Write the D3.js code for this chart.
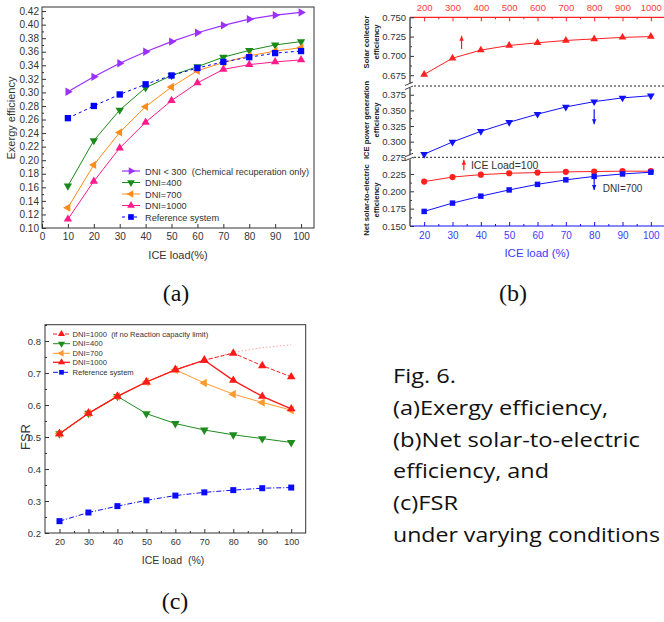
<!DOCTYPE html>
<html><head><meta charset="utf-8">
<script src="https://cdn.jsdelivr.net/npm/d3@7"></script>
<style>
body{margin:0;background:#fff}
svg{display:block}
text{font-family:"Liberation Sans",Arial,sans-serif;white-space:pre}
</style>
</head><body>
<svg id="fig" width="664" height="622"></svg>
<script>
// ---------- DATA ----------
// (a) Exergy efficiency vs ICE load
const loadA = [10,20,30,40,50,60,70,80,90,100];
const exDNI300  = [0.301,0.323,0.343,0.360,0.375,0.388,0.399,0.408,0.414,0.418];
const exDNI400  = [0.162,0.229,0.274,0.307,0.325,0.338,0.352,0.362,0.370,0.375];
const exDNI700  = [0.130,0.193,0.241,0.279,0.308,0.332,0.344,0.354,0.361,0.366];
const exDNI1000 = [0.113,0.169,0.218,0.256,0.288,0.314,0.334,0.341,0.345,0.348];
const exRef     = [0.262,0.280,0.297,0.312,0.325,0.336,0.345,0.352,0.358,0.361];
const legendA = ["DNI < 300  (Chemical recuperation only)","DNI=400","DNI=700","DNI=1000","Reference system"];

// (b) efficiencies
const loadB = [20,30,40,50,60,70,80,90,100];
const dniB  = [200,300,400,500,600,700,800,900,1000];
const solarCollector = [0.676,0.697,0.7075,0.7135,0.717,0.720,0.722,0.724,0.725];
const icePower       = [0.280,0.2995,0.3165,0.331,0.344,0.3555,0.364,0.370,0.3735];
const netICE100      = [0.214,0.2205,0.224,0.226,0.227,0.228,0.2285,0.229,0.229];
const netDNI700      = [0.171,0.183,0.193,0.202,0.210,0.2165,0.2215,0.225,0.2275];
const ticksB1 = [0.675,0.700,0.725,0.750];
const ticksB2 = [0.275,0.300,0.325,0.350,0.375];
const ticksB3 = [0.150,0.175,0.200,0.225];

// (c) FSR vs ICE load
const loadC = [20,30,40,50,60,70,80,90,100];
const fsrNoLimit = [0.510,0.574,0.627,0.672,0.710,0.740,0.762,0.723,0.688];
const fsr400     = [0.510,0.574,0.627,0.573,0.542,0.522,0.507,0.495,0.483];
const fsr700     = [0.510,0.574,0.627,0.672,0.710,0.669,0.634,0.608,0.584];
const fsr1000    = [0.510,0.574,0.627,0.672,0.710,0.740,0.677,0.627,0.588];
const fsrRef     = [0.237,0.264,0.284,0.302,0.317,0.327,0.334,0.340,0.342];
const loadCExt   = [70,80,90,100];
const fsrExt     = [0.740,0.765,0.779,0.788];
const legendC = ["DNI=1000  (if no Reaction capacity limit)","DNI=400","DNI=700","DNI=1000","Reference system"];

const caption = ["Fig. 6.","(a)Exergy efficiency,","(b)Net solar-to-electric","efficiency, and","(c)FSR","under varying conditions"];

// ---------- HELPERS ----------
const svg = d3.select("#fig");
const TXT = "#333";

function drawSeries(g, xs, ys, xs_, ys_, o) {
  const line = d3.line().x((d,i)=>xs_(xs[i])).y(d=>ys_(d));
  g.append("path").datum(ys).attr("d", line).attr("fill","none")
    .attr("stroke", o.color).attr("stroke-width", o.w || 1)
    .attr("stroke-dasharray", o.dash || null).attr("opacity", o.op || 1);
  if (o.sym) {
    g.selectAll(null).data(ys).enter().append("path")
      .attr("transform",(d,i)=>`translate(${xs_(xs[i])},${ys_(d)}) rotate(${o.rot||0})`)
      .attr("d", d3.symbol().type(o.sym).size(o.size || 30))
      .attr("fill", o.color);
  }
}
function styleAxis(sel, color, fs) {
  sel.selectAll("line").attr("stroke", color);
  sel.selectAll("path.domain").remove();
  sel.selectAll("text").attr("fill", color).attr("font-size", fs);
}

// ---------- PANEL (a) ----------
(function(){
  const g = svg.append("g");
  const x = d3.scaleLinear().domain([0,105]).range([42,314]);
  const y = d3.scaleLinear().domain([0.10,0.426]).range([228,7]);
  g.append("g").attr("transform","translate(0,228)")
    .call(d3.axisBottom(x).tickValues(d3.range(0,101,10)).tickSize(-4).tickPadding(5).tickFormat(d3.format("d")))
    .call(s=>styleAxis(s,TXT,"10px"));
  g.append("g").attr("transform","translate(42,0)")
    .call(d3.axisLeft(y).tickValues(d3.range(0.10,0.4201,0.02)).tickSize(-4).tickPadding(3).tickFormat(d3.format(".2f")))
    .call(s=>styleAxis(s,TXT,"10px"));
  g.append("g").attr("transform","translate(42,0)")
    .call(d3.axisLeft(y).tickValues(d3.range(0.11,0.42,0.02)).tickSize(-2).tickFormat(""))
    .call(s=>styleAxis(s,TXT,"10px"));
  g.append("rect").attr("x",42).attr("y",7).attr("width",272).attr("height",221)
    .attr("fill","none").attr("stroke",TXT).attr("stroke-width",1);

  const specs = [
    {ys:exDNI300, color:"#9b30ff", sym:d3.symbolTriangle, rot:90, w:1.2},
    {ys:exDNI400, color:"#1a8a1a", sym:d3.symbolTriangle, rot:180},
    {ys:exDNI700, color:"#ff8c1a", sym:d3.symbolTriangle, rot:270},
    {ys:exDNI1000,color:"#ff1a8c", sym:d3.symbolTriangle, rot:0},
    {ys:exRef,    color:"#0000ff", sym:d3.symbolSquare, size:40, dash:"3,3"}
  ];
  specs.forEach(s=>drawSeries(g, loadA, s.ys, x, y, s));

  // legend
  specs.forEach((s,i)=>{
    const ly = 171 + i*11.5;
    g.append("line").attr("x1",122).attr("x2",140).attr("y1",ly).attr("y2",ly)
      .attr("stroke",s.color).attr("stroke-width",s.w||1).attr("stroke-dasharray",s.dash||null);
    g.append("path").attr("transform",`translate(131,${ly}) rotate(${s.rot||0})`)
      .attr("d", d3.symbol().type(s.sym).size(s.size?32:26)).attr("fill",s.color);
    g.append("text").attr("x",145).attr("y",ly+3.5).attr("font-size","9.2px").attr("fill",TXT).text(legendA[i]);
  });

  g.append("text").attr("transform","translate(15,118) rotate(-90)").attr("text-anchor","middle")
    .attr("font-size","11px").attr("fill",TXT).text("Exergy efficiency");
  g.append("text").attr("x",178).attr("y",259).attr("text-anchor","middle")
    .attr("font-size","11px").attr("fill",TXT).text("ICE load(%)");
  g.append("text").attr("x",176).attr("y",301).attr("text-anchor","middle")
    .style("font-family","'Liberation Serif','Times New Roman',serif").attr("font-size","24px").attr("fill","#111").text("(a)");
})();

// ---------- PANEL (b) ----------
(function(){
  const g = svg.append("g");
  const X0 = 410, X1 = 665;
  const xB = d3.scaleLinear().domain([15,105]).range([X0,X1]);
  const xT = d3.scaleLinear().domain([150,1050]).range([X0,X1]);
  const y1 = d3.scaleLinear().domain([0.661,0.750]).range([86,17.3]);
  const y2 = d3.scaleLinear().domain([0.275,0.389]).range([157.3,86]);
  const y3 = d3.scaleLinear().domain([0.150,0.249]).range([226,157.3]);
  const RED = "#ff2020", BLUE = "#1010ff", RTX = "#ff3b3b", BTX = "#3b3bff";

  // top axis (DNI)
  g.append("g").attr("transform","translate(0,17.3)")
    .call(d3.axisTop(xT).tickValues(dniB).tickSize(-4).tickPadding(6).tickFormat(d3.format("d")))
    .call(s=>styleAxis(s,RED,"9.5px")).selectAll("text").attr("fill",RTX);
  g.append("g").attr("transform","translate(0,17.3)")
    .call(d3.axisTop(xT).tickValues(d3.range(250,1000,100)).tickSize(-2).tickFormat(""))
    .call(s=>styleAxis(s,RED,"9px"));
  g.append("line").attr("x1",X0).attr("x2",X1).attr("y1",17.3).attr("y2",17.3).attr("stroke",RED).attr("stroke-width",1.2);

  // bottom axis (load)
  g.append("g").attr("transform","translate(0,226)")
    .call(d3.axisBottom(xB).tickValues(loadB).tickSize(-4).tickPadding(6).tickFormat(d3.format("d")))
    .call(s=>styleAxis(s,BLUE,"10px")).selectAll("text").attr("fill",BTX);
  g.append("g").attr("transform","translate(0,226)")
    .call(d3.axisBottom(xB).tickValues(d3.range(25,100,10)).tickSize(-2).tickFormat(""))
    .call(s=>styleAxis(s,BLUE,"10px"));
  g.append("line").attr("x1",X0).attr("x2",X1).attr("y1",226).attr("y2",226).attr("stroke",BLUE).attr("stroke-width",1.2);

  // left axes segments
  [[y1,ticksB1],[y2,ticksB2],[y3,ticksB3]].forEach(([ys,tv])=>{
    const minor = tv.slice(0,-1).map(v=>v+0.0125);
    g.append("g").attr("transform",`translate(${X0},0)`)
      .call(d3.axisLeft(ys).tickValues(tv).tickSize(-4).tickPadding(4).tickFormat(d3.format(".3f")))
      .call(s=>styleAxis(s,TXT,"9.5px"));
    g.append("g").attr("transform",`translate(${X0},0)`)
      .call(d3.axisLeft(ys).tickValues(minor).tickSize(-2).tickFormat(""))
      .call(s=>styleAxis(s,TXT,"9px"));
  });
  g.append("line").attr("x1",X0).attr("x2",X0).attr("y1",17.3).attr("y2",226).attr("stroke","#555").attr("stroke-width",1.5);

  // separators + break marks
  [86,157.3].forEach(yy=>{
    g.append("line").attr("x1",X0).attr("x2",X1).attr("y1",yy).attr("y2",yy)
      .attr("stroke","#222").attr("stroke-width",1).attr("stroke-dasharray","2,2");
    g.append("rect").attr("x",X0-3).attr("y",yy-2).attr("width",6).attr("height",4).attr("fill","#fff");
    g.append("line").attr("x1",X0-5).attr("x2",X0+3).attr("y1",yy-0.5).attr("y2",yy-4).attr("stroke","#444").attr("stroke-width",1);
    g.append("line").attr("x1",X0-5).attr("x2",X0+3).attr("y1",yy+3.5).attr("y2",yy).attr("stroke","#444").attr("stroke-width",1);
  });

  drawSeries(g, dniB, solarCollector, xT, y1, {color:RED, sym:d3.symbolTriangle, size:26});
  drawSeries(g, loadB, icePower, xB, y2, {color:BLUE, sym:d3.symbolTriangle, rot:180, size:26});
  drawSeries(g, dniB, netICE100, xT, y3, {color:RED, sym:d3.symbolCircle, size:30});
  drawSeries(g, loadB, netDNI700, xB, y3, {color:BLUE, sym:d3.symbolSquare, size:30});

  // arrows
  function arrow(xp, ya, yb, color) { // from ya (tail) to yb (head)
    g.append("line").attr("x1",xp).attr("x2",xp).attr("y1",ya).attr("y2",yb).attr("stroke",color).attr("stroke-width",1.2);
    const dir = yb < ya ? -1 : 1;
    g.append("path").attr("d",`M${xp-2.2},${yb-dir*5}L${xp+2.2},${yb-dir*5}L${xp},${yb}Z`).attr("fill",color);
  }
  arrow(xT(332), y1(0.709), y1(0.726), RED);
  arrow(xB(80), y2(0.352), y2(0.328), BLUE);
  arrow(xB(34), y3(0.2305), y3(0.2455), RED);
  arrow(xB(80), y3(0.222), y3(0.202), BLUE);
  g.append("text").attr("x",xB(36.5)).attr("y",y3(0.238)+3.7).attr("font-size","10.5px").attr("fill",TXT).text("ICE Load=100");
  g.append("text").attr("x",xB(83)).attr("y",y3(0.2038)+3.7).attr("font-size","10px").attr("fill",TXT).text("DNI=700");

  // y labels
  const ylab = [["Solar collector","efficiency",42],["ICE power generation","efficiency",120],["Net solar-to-electric","efficiency",200]];
  ylab.forEach(([a,b,cy])=>{
    const t = g.append("text").attr("transform",`translate(369,${cy}) rotate(-90)`).attr("text-anchor","middle")
      .attr("font-size","7.6px").attr("font-weight","bold").attr("fill","#222");
    t.append("tspan").attr("x",0).attr("dy",0).text(a);
    t.append("tspan").attr("x",0).attr("dy",10).text(b);
  });
  g.append("text").attr("x",537).attr("y",257).attr("text-anchor","middle").attr("font-size","11.5px").attr("fill",BTX).text("ICE load (%)");
  g.append("text").attr("x",513).attr("y",301).attr("text-anchor","middle")
    .style("font-family","'Liberation Serif','Times New Roman',serif").attr("font-size","24px").attr("fill","#111").text("(b)");
})();

// ---------- PANEL (c) ----------
(function(){
  const g = svg.append("g");
  const x = d3.scaleLinear().domain([15,105]).range([45,305.7]);
  const y = d3.scaleLinear().domain([0.2,0.851]).range([533,324.7]);
  g.append("g").attr("transform","translate(0,533)")
    .call(d3.axisBottom(x).tickValues(loadC).tickSize(-4).tickPadding(6).tickFormat(d3.format("d")))
    .call(s=>styleAxis(s,TXT,"9px"));
  g.append("g").attr("transform","translate(0,533)")
    .call(d3.axisBottom(x).tickValues(d3.range(25,100,10)).tickSize(-2).tickFormat(""))
    .call(s=>styleAxis(s,TXT,"9px"));
  g.append("g").attr("transform","translate(45,0)")
    .call(d3.axisLeft(y).tickValues(d3.range(0.2,0.801,0.1)).tickSize(-4).tickPadding(4).tickFormat(d3.format(".1f")))
    .call(s=>styleAxis(s,TXT,"9.5px"));
  g.append("g").attr("transform","translate(45,0)")
    .call(d3.axisLeft(y).tickValues(d3.range(0.25,0.851,0.1)).tickSize(-2).tickFormat(""))
    .call(s=>styleAxis(s,TXT,"9px"));
  g.append("rect").attr("x",45).attr("y",324.7).attr("width",260.7).attr("height",208.3)
    .attr("fill","none").attr("stroke",TXT).attr("stroke-width",1);

  drawSeries(g, loadCExt, fsrExt, x, y, {color:"#ff6060", dash:"1.5,2", op:0.6});
  const specs = [
    {ys:fsrNoLimit, color:"#ff1a1a", sym:d3.symbolTriangle, dash:"4,2"},
    {ys:fsr400,     color:"#1e8c1e", sym:d3.symbolTriangle, rot:180},
    {ys:fsr700,     color:"#ff9a2e", sym:d3.symbolTriangle, rot:270},
    {ys:fsr1000,    color:"#ff1a1a", sym:d3.symbolTriangle, w:1.3},
    {ys:fsrRef,     color:"#0a0aff", sym:d3.symbolSquare, size:36, dash:"5,2,1,2"}
  ];
  specs.forEach(s=>drawSeries(g, loadC, s.ys, x, y, Object.assign({size:32}, s)));

  specs.forEach((s,i)=>{
    const ly = [334,343.7,353.3,362.3,372.3][i];
    g.append("line").attr("x1",53).attr("x2",70).attr("y1",ly).attr("y2",ly)
      .attr("stroke",s.color).attr("stroke-width",s.w||1).attr("stroke-dasharray",s.dash||null);
    g.append("path").attr("transform",`translate(61.5,${ly}) rotate(${s.rot||0})`)
      .attr("d", d3.symbol().type(s.sym).size(22)).attr("fill",s.color);
    g.append("text").attr("x",72.5).attr("y",ly+2.7).attr("font-size","7.6px").attr("fill",TXT).text(legendC[i]);
  });

  g.append("text").attr("transform","translate(30,437) rotate(-90)").attr("text-anchor","middle")
    .attr("font-size","13px").attr("fill",TXT).text("FSR");
  g.append("text").attr("x",173).attr("y",564).attr("text-anchor","middle")
    .attr("font-size","10.5px").attr("fill",TXT).text("ICE load  (%)");
  g.append("text").attr("x",175).attr("y",609).attr("text-anchor","middle")
    .style("font-family","'Liberation Serif','Times New Roman',serif").attr("font-size","24px").attr("fill","#111").text("(c)");
})();

// ---------- CAPTION ----------
(function(){
  const widths = [63,215,247,156,65,267];
  caption.forEach((t,i)=>{
    svg.append("text").attr("x",393).attr("y",383 + i*31.8)
      .style("font-family","'Open Sans','Noto Sans',sans-serif").attr("font-size","20px").attr("fill","#111")
      .attr("textLength",widths[i]).attr("lengthAdjust","spacingAndGlyphs").text(t);
  });
})();
</script>
</body></html>
